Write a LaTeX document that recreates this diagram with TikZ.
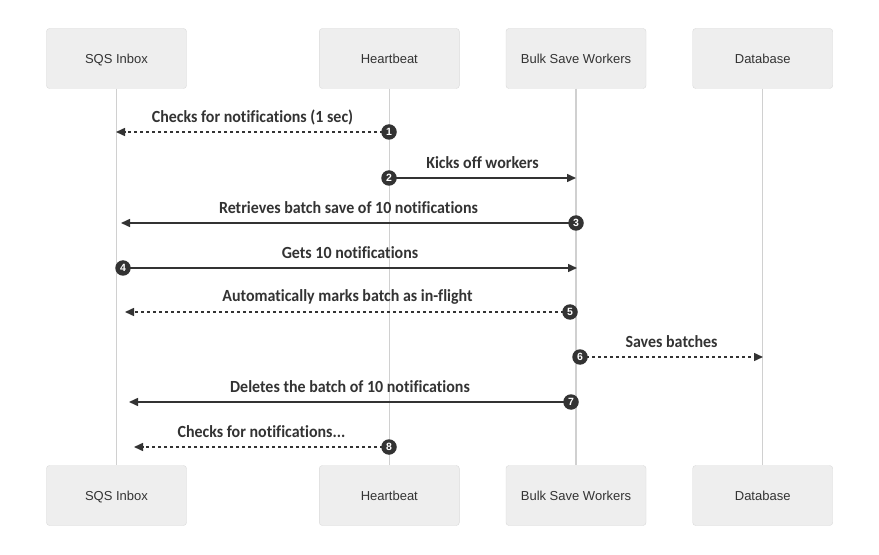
\documentclass[tikz,border=0pt]{standalone}
\usepackage{fontspec}
\setmainfont{Liberation Sans}
\newfontfamily\lblfont{Carlito}[Ligatures={NoCommon,NoContextual},FakeStretch=0.94]
\usetikzlibrary{arrows.meta}
\definecolor{boxfill}{HTML}{EEEEEE}
\definecolor{boxline}{HTML}{DADADA}
\definecolor{life}{HTML}{D0D0D0}
\definecolor{ink}{HTML}{333333}
\begin{document}
\begin{tikzpicture}[x=1bp,y=-1bp,
  actor/.style={draw=boxline, fill=boxfill, rounded corners=3bp, minimum width=140bp, minimum height=60bp, inner sep=0pt, text height=10bp, text depth=0.6bp, text=ink, font=\fontsize{13bp}{15bp}\selectfont},
  lifeline/.style={draw=life, line width=1.5bp},
  num/.style={circle, fill=ink, minimum size=15.5bp, inner sep=0pt, text=white, font=\fontsize{10.5bp}{11bp}\selectfont\bfseries},
  msg/.style={draw=ink, line width=1.5bp, -{Triangle[length=9bp,width=8bp]}},
  async/.style={msg, dash pattern=on 3bp off 3bp},
  lbl/.style={midway, yshift=15bp, text=ink, inner sep=0pt, font=\lblfont\bfseries\fontsize{17bp}{19bp}\selectfont}
]
\useasboundingbox[fill=white] (0,0) rectangle (879,555);

% actors top
\node[actor] (sqsT) at (116.5,58.5) {SQS Inbox};
\node[actor] (hbT) at (389.3,58.5) {Heartbeat};
\node[actor] (bwT) at (576,58.5) {Bulk Save Workers};
\node[actor] (dbT) at (762.7,58.5) {Database};
% actors bottom
\node[actor] (sqsB) at (116.5,495.5) {SQS Inbox};
\node[actor] (hbB) at (389.3,495.5) {Heartbeat};
\node[actor] (bwB) at (576,495.5) {Bulk Save Workers};
\node[actor] (dbB) at (762.7,495.5) {Database};
% lifelines
\draw[lifeline] (sqsT) -- (sqsB);
\draw[lifeline] (hbT) -- (hbB);
\draw[lifeline] (bwT) -- (bwB);
\draw[lifeline] (dbT) -- (dbB);

% message endpoints
\coordinate (s1) at (389,132); \coordinate (e1) at (116,132);
\coordinate (s2) at (389,178); \coordinate (e2) at (576,178);
\coordinate (s3) at (576,223); \coordinate (e3) at (121,223);
\coordinate (s4) at (123,268); \coordinate (e4) at (577,268);
\coordinate (s5) at (570,312); \coordinate (e5) at (125,312);
\coordinate (s6) at (580,357); \coordinate (e6) at (763,357);
\coordinate (s7) at (571,402); \coordinate (e7) at (129,402);
\coordinate (s8) at (389,447); \coordinate (e8) at (134,447);

\draw[async] (s1) -- node[lbl] {Checks for notifications (1 sec)} (e1);
\draw[msg] (s2) -- node[lbl] {Kicks off workers} (e2);
\draw[msg] (s3) -- node[lbl] {Retrieves batch save of 10 notifications} (e3);
\draw[msg] (s4) -- node[lbl] {Gets 10 notifications} (e4);
\draw[async] (s5) -- node[lbl] {Automatically marks batch as in-flight} (e5);
\draw[async] (s6) -- node[lbl] {Saves batches} (e6);
\draw[msg] (s7) -- node[lbl] {Deletes the batch of 10 notifications} (e7);
\draw[async] (s8) -- node[lbl] {Checks for notifications...} (e8);

\node[num] (n1) at (s1) {1};
\node[num] (n2) at (s2) {2};
\node[num] (n3) at (s3) {3};
\node[num] (n4) at (s4) {4};
\node[num] (n5) at (s5) {5};
\node[num] (n6) at (s6) {6};
\node[num] (n7) at (s7) {7};
\node[num] (n8) at (s8) {8};
\end{tikzpicture}
\end{document}
